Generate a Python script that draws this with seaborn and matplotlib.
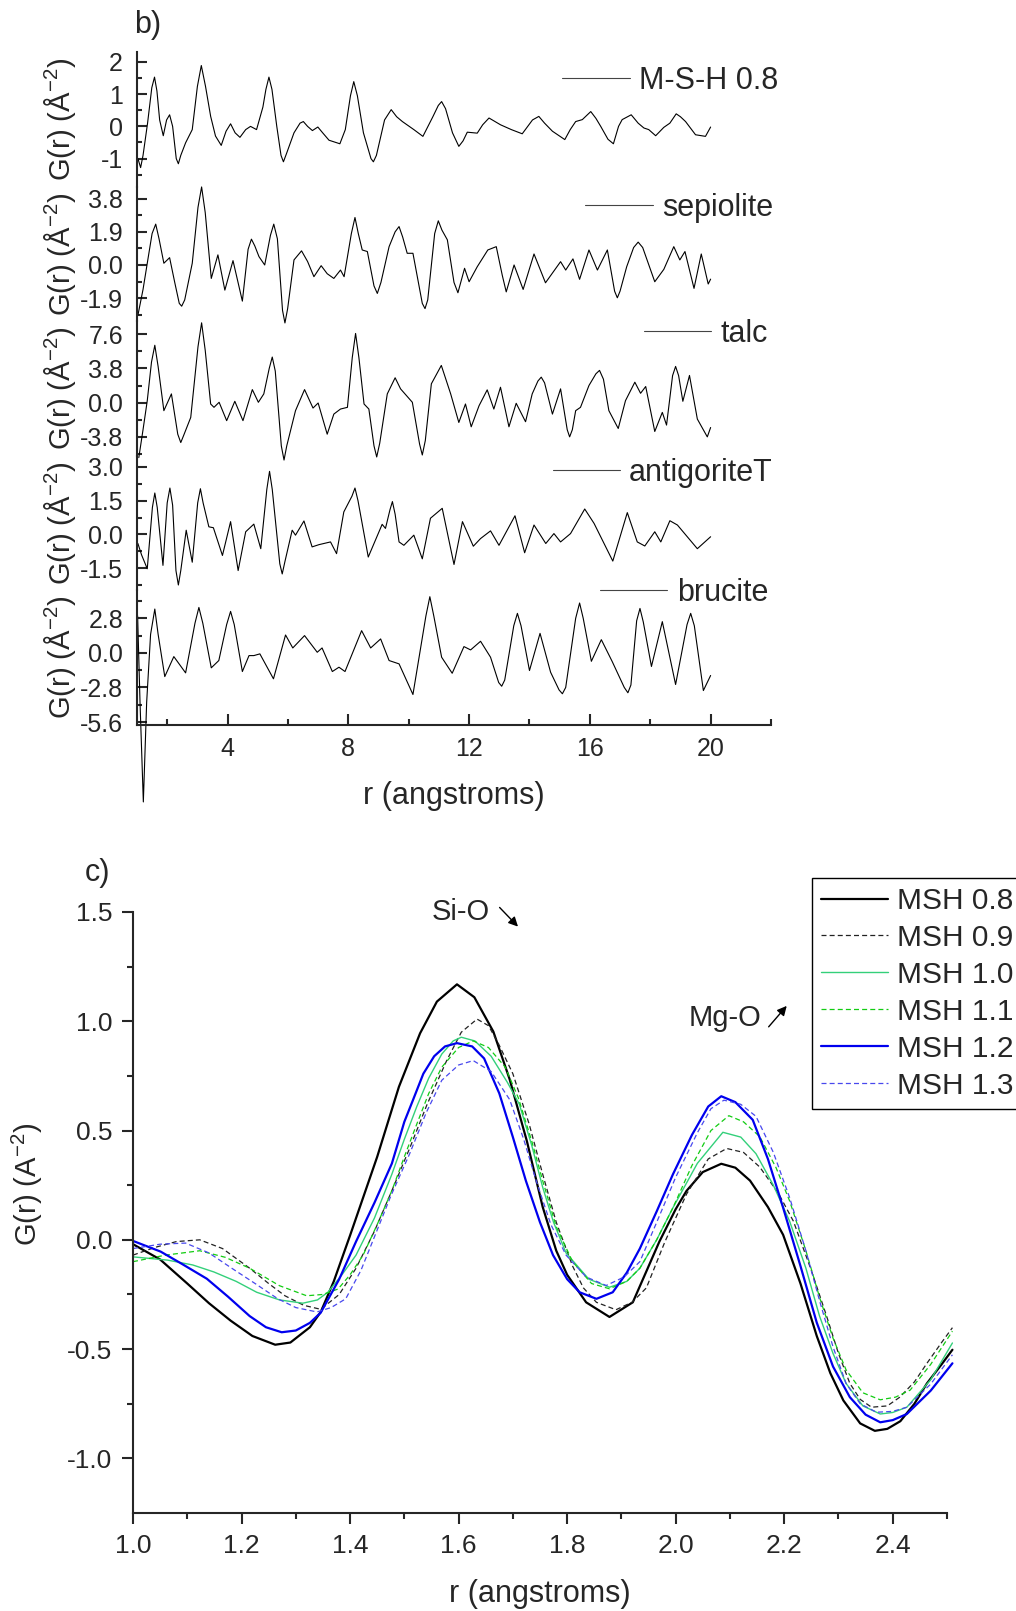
import pandas as pd
import seaborn as sns
import matplotlib.pyplot as plt

sns.set_style("ticks")
plt.rcParams['font.family'] = ['Liberation Sans', 'DejaVu Sans']
plt.rcParams['mathtext.fontset'] = 'custom'
plt.rcParams['mathtext.rm'] = 'Liberation Sans'
plt.rcParams['mathtext.it'] = 'Liberation Sans:italic'
plt.rcParams['axes.unicode_minus'] = False

# ---- panel b: G(r) of the references ----
msh_r = [1.03, 1.12, 1.20, 1.35, 1.49, 1.58, 1.66, 1.75, 1.87, 1.98, 2.08, 2.18, 2.30, 2.37, 2.45, 2.61, 2.83,
         3.00, 3.13, 3.27, 3.44, 3.60, 3.79, 3.95, 4.10, 4.25, 4.41, 4.60, 4.76, 4.96, 5.17, 5.27, 5.37,
         5.47, 5.63, 5.77, 5.85, 5.95, 6.20, 6.40, 6.51, 6.65, 6.81, 6.99, 7.15, 7.36, 7.72, 7.90, 8.07,
         8.18, 8.30, 8.50, 8.75, 8.83, 8.93, 9.20, 9.42, 9.60, 9.79, 10.17, 10.47, 10.80, 10.98, 11.09,
         11.22, 11.45, 11.66, 11.80, 11.94, 12.27, 12.45, 12.66, 13.04, 13.40, 13.76, 14.10, 14.31, 14.50,
         14.76, 15.17, 15.35, 15.53, 15.75, 16.03, 16.20, 16.36, 16.60, 16.78, 16.95, 17.07, 17.37, 17.60,
         17.79, 17.95, 18.18, 18.45, 18.65, 18.86, 19.00, 19.17, 19.50, 19.83, 20.0]
msh_g = [-1.0, -1.28, -0.9, 0.1, 1.2, 1.53, 1.1, 0.2, -0.29, 0.2, 0.36, 0.0, -1.0, -1.16, -0.9, -0.51, -0.10,
         1.24, 1.89, 1.24, 0.31, -0.3, -0.59, -0.15, 0.08, -0.2, -0.34, -0.1, 0.0, -0.10, 0.6, 1.15, 1.53,
         1.15, 0.0, -0.9, -1.10, -0.85, -0.2, 0.1, 0.15, 0.0, -0.13, -0.02, -0.2, -0.43, -0.54, -0.1, 0.95,
         1.39, 0.95, -0.2, -1.0, -1.10, -0.9, 0.2, 0.52, 0.3, 0.15, -0.10, -0.31, 0.3, 0.65, 0.77,
         0.55, -0.2, -0.62, -0.45, -0.18, -0.21, 0.05, 0.26, 0.05, -0.1, -0.23, 0.2, 0.31, 0.1,
         -0.15, -0.41, -0.1, 0.15, 0.21, 0.46, 0.25, 0.0, -0.4, -0.54, 0.0, 0.21, 0.36, 0.1,
         -0.05, -0.1, -0.29, -0.03, 0.1, 0.39, 0.3, 0.15, -0.26, -0.31, -0.02]

sep_r = [1.03, 1.20, 1.34, 1.50, 1.62, 1.73, 1.89, 2.08, 2.25, 2.40, 2.48, 2.58, 2.83, 3.02, 3.14, 3.26, 3.46,
         3.68, 3.91, 4.18, 4.49, 4.68, 4.79, 4.90, 5.04, 5.23, 5.42, 5.53, 5.65, 5.82, 5.90, 5.99, 6.20,
         6.45, 6.65, 6.86, 7.10, 7.30, 7.52, 7.74, 7.86, 8.10, 8.22, 8.33, 8.46, 8.63, 8.85, 8.96, 9.08,
         9.35, 9.55, 9.68, 9.80, 9.95, 10.14, 10.45, 10.54, 10.63, 10.86, 10.98, 11.10, 11.28, 11.50,
         11.63, 11.85, 12.0, 12.27, 12.62, 12.90, 13.1, 13.23, 13.49, 13.79, 14.15, 14.53, 15.03, 15.2,
         15.44, 15.66, 15.97, 16.25, 16.58, 16.82, 16.91, 17.0, 17.22, 17.45, 17.6, 17.75, 18.15, 18.45,
         18.78, 18.98, 19.15, 19.45, 19.69, 19.92, 20.0]
sep_g = [-2.88, -1.4, 0.1, 1.8, 2.34, 1.5, 0.1, 0.42, -1.0, -2.2, -2.36, -2.0, 0.1, 3.3, 4.47, 3.0, -0.77,
         0.58, -1.44, 0.25, -2.07, 0.9, 1.48, 1.1, 0.48, 0.0, 1.7, 2.34, 1.5, -2.6, -3.32, -2.5, 0.29,
         0.81, 0.2, -0.67, -0.04, -0.5, -0.77, -0.29, -0.67, 1.8, 2.72, 1.8, 0.86, 0.77, -1.2, -1.63, -1.0,
         1.05, 1.9, 2.2, 1.6, 0.67, 0.67, -2.2, -2.5, -2.0, 1.8, 2.53, 2.0, 1.44, -1.0,
         -1.59, -0.19, -0.96, -0.1, 0.86, 1.05, -0.6, -1.54, 0.0, -1.4, 0.63, -1.02, 0.19, -0.29,
         0.35, -0.82, 0.86, -0.29, 0.86, -1.5, -1.88, -1.5, -0.1, 1.0, 1.31, 1.0, -0.96, -0.25,
         1.05, 0.29, 0.77, -1.34, 0.63, -1.09, -0.81]

talc_r = [1.06, 1.20, 1.34, 1.48, 1.59, 1.70, 1.89, 2.14, 2.35, 2.45, 2.55, 2.78, 3.02, 3.14, 3.26, 3.44, 3.55,
          3.72, 3.97, 4.24, 4.51, 4.82, 5.02, 5.2, 5.38, 5.48, 5.58, 5.78, 5.87, 5.96, 6.25, 6.55, 6.83,
          7.0, 7.3, 7.52, 7.74, 7.97, 8.13, 8.24, 8.35, 8.52, 8.68, 8.85, 8.94, 9.04, 9.29, 9.55, 9.73,
          10.12, 10.36, 10.45, 10.55, 10.75, 11.08, 11.39, 11.66, 11.88, 12.07, 12.33, 12.6, 12.82, 13.04,
          13.32, 13.56, 13.87, 14.09, 14.28, 14.39, 14.50, 14.76, 15.03, 15.25, 15.33, 15.42, 15.53, 15.69,
          15.97, 16.20, 16.32, 16.45, 16.63, 16.94, 17.18, 17.49, 17.68, 17.85, 18.15, 18.4, 18.54, 18.74,
          18.84, 18.94, 19.08, 19.3, 19.56, 19.89, 20.0]
talc_g = [-6.1, -3.0, 0.22, 4.5, 6.37, 4.0, -0.89, 0.97, -3.5, -4.43, -3.6, -1.64, 6.2, 8.86, 5.8, -0.15, -0.52,
          0.04, -2.0, 0.15, -2.0, 1.45, 0.04, 0.97, 3.8, 5.06, 3.5, -4.8, -6.37, -4.8, -0.89, 1.45, -0.6,
          -0.04, -3.5, -1.27, -0.71, -0.52, 5.0, 7.68, 5.0, -0.15, -0.71, -4.8, -6.03, -4.5, 0.97, 2.76, 1.53,
          0.04, -4.6, -5.81, -4.2, 2.09, 4.13, 0.97, -2.2, -0.15, -2.68, -0.34, 1.42, -0.71, 1.71,
          -2.68, -0.07, -2.12, 0.97, 2.4, 2.83, 2.2, -1.27, 1.53, -3.0, -3.8, -3.0, -0.89, -0.52,
          1.9, 3.2, 3.58, 2.6, -0.89, -2.87, 0.22, 2.27, 1.04, 1.79, -3.2, -1.08, -2.49, 3.0,
          4.02, 3.0, 0.15, 3.02, -1.82, -3.8, -2.76]

anti_r = [1.03, 1.15, 1.34, 1.51, 1.59, 1.67, 1.86, 2.00, 2.09, 2.18, 2.29, 2.37, 2.45, 2.63, 2.83, 3.01, 3.10,
          3.19, 3.38, 3.53, 3.83, 4.10, 4.35, 4.60, 4.87, 5.10, 5.30, 5.39, 5.48, 5.73, 5.81, 5.90, 6.14,
          6.25, 6.53, 6.80, 7.03, 7.41, 7.61, 7.85, 8.12, 8.22, 8.32, 8.66, 9.12, 9.23, 9.38, 9.46, 9.55,
          9.68, 9.84, 10.17, 10.45, 10.72, 11.11, 11.5, 11.78, 12.14, 12.38, 12.71, 12.99, 13.52, 13.84,
          14.15, 14.54, 14.81, 15.03, 15.36, 15.83, 16.14, 16.76, 17.24, 17.57, 17.82, 18.15, 18.35,
          18.65, 18.9, 19.56, 20.0]
anti_g = [-0.4, -0.9, -1.52, 1.2, 1.84, 1.2, -1.37, 1.4, 2.06, 1.3, -1.6, -2.24, -1.6, 0.19, -1.23, 1.4, 2.03,
          1.4, 0.34, 0.30, -0.93, 0.57, -1.60, 0.12, 0.46, -0.63, 2.0, 2.80, 2.0, -1.3, -1.75, -1.2, 0.19,
          -0.03, 0.60, -0.55, -0.45, -0.33, -0.85, 1.0, 1.7, 2.06, 1.5, -1.0, 0.45, 0.27, 1.1, 1.46, 0.9,
          -0.33, -0.48, -0.03, -1.08, 0.72, 1.16, -1.33, 0.57, -0.52, -0.18, 0.16, -0.48, 0.83, -0.81,
          0.42, -0.40, 0.04, -0.33, 0.04, 1.13, 0.49, -1.18, 0.97, -0.33, -0.51, 0.12, -0.33,
          0.61, 0.42, -0.63, -0.1]

bru_r = [1.02, 1.10, 1.21, 1.32, 1.45, 1.59, 1.70, 1.92, 2.22, 2.61, 2.92, 3.05, 3.18, 3.46, 3.71, 3.97, 4.10,
         4.22, 4.49, 4.71, 4.87, 5.07, 5.52, 5.92, 6.16, 6.55, 6.97, 7.13, 7.47, 7.69, 7.89, 8.44, 8.74,
         9.07, 9.35, 9.68, 10.14, 10.57, 10.70, 10.83, 11.09, 11.44, 11.83, 12.05, 12.38, 12.71, 12.98,
         13.08, 13.18, 13.48, 13.60, 13.72, 14.00, 14.35, 14.70, 14.98, 15.09, 15.20, 15.53, 15.66, 15.78,
         16.05, 16.38, 16.74, 17.14, 17.26, 17.36, 17.55, 17.66, 17.77, 18.04, 18.40, 18.84, 19.22, 19.34,
         19.46, 19.76, 20.0]
bru_g = [3.0, -4.0, -12.07, -4.0, 1.5, 3.55, 1.5, -1.92, -0.3, -1.62, 2.4, 3.68, 2.4, -1.21, -0.62, 2.3, 3.36,
         2.3, -1.51, -0.22, -0.22, -0.08, -2.10, 1.45, 0.40, 1.40, 0.05, 0.40, -1.51, -1.16, -1.51, 1.80, 0.40,
         1.13, -0.62, -0.89, -3.37, 3.0, 4.55, 3.0, -0.35, -1.65, 0.51, 0.24, 0.94, -0.35, -2.4,
         -2.70, -2.2, 2.2, 3.20, 2.2, -1.43, 1.58, -1.57, -3.0, -3.31, -2.8, 2.8, 4.04, 2.8,
         -0.68, 1.07, -0.70, -2.8, -3.23, -2.6, 2.6, 3.60, 2.5, -1.10, 2.53, -2.56, 2.3, 3.20,
         2.2, -3.05, -1.83]

# ---- panel c: low-r region of the M-S-H samples ----
s08_r = [1.0, 1.05, 1.10, 1.14, 1.18, 1.22, 1.262, 1.29, 1.326, 1.346, 1.37, 1.40, 1.45, 1.49, 1.529, 1.56,
         1.597, 1.629, 1.664, 1.694, 1.726, 1.755, 1.78, 1.80, 1.835, 1.878, 1.921, 1.945, 1.97, 2.00, 2.02,
         2.05, 2.084, 2.11, 2.137, 2.17, 2.198, 2.23, 2.26, 2.285, 2.309, 2.34, 2.367, 2.39, 2.414, 2.44,
         2.463, 2.49, 2.51]
s08_g = [-0.02, -0.09, -0.20, -0.29, -0.37, -0.44, -0.48, -0.47, -0.40, -0.33, -0.19, 0.02, 0.38, 0.70, 0.945,
         1.09, 1.169, 1.11, 0.953, 0.735, 0.45, 0.15, -0.05, -0.16, -0.286, -0.353, -0.286, -0.15, -0.008, 0.14,
         0.224, 0.31, 0.348, 0.33, 0.271, 0.15, 0.023, -0.2, -0.44, -0.61, -0.735, -0.84, -0.874, -0.865,
         -0.83, -0.75, -0.657, -0.57, -0.503]
s09_r = [1.0, 1.04, 1.08, 1.123, 1.165, 1.215, 1.25, 1.28, 1.315, 1.346, 1.38, 1.411, 1.445, 1.477, 1.51,
         1.542, 1.578, 1.605, 1.634, 1.655, 1.673, 1.70, 1.73, 1.755, 1.78, 1.81, 1.83, 1.854, 1.89, 1.92,
         1.946, 1.98, 2.02, 2.06, 2.094, 2.125, 2.155, 2.19, 2.217, 2.25, 2.278, 2.30, 2.321, 2.34, 2.361,
         2.39, 2.413, 2.44, 2.463, 2.49, 2.51]
s09_g = [-0.07, -0.035, -0.008, 0.0, -0.04, -0.13, -0.2, -0.256, -0.30, -0.318, -0.25, -0.13, 0.04, 0.225,
         0.42, 0.62, 0.82, 0.95, 1.01, 0.98, 0.90, 0.76, 0.53, 0.30, 0.08, -0.12, -0.22, -0.286, -0.32, -0.285,
         -0.22, -0.01, 0.209, 0.37, 0.418, 0.40, 0.333, 0.21, 0.085, -0.14, -0.348, -0.52, -0.657, -0.73,
         -0.766, -0.76, -0.72, -0.65, -0.565, -0.47, -0.402]
s10_r = [1.0, 1.064, 1.11, 1.149, 1.19, 1.228, 1.27, 1.313, 1.34, 1.359, 1.385, 1.411, 1.445, 1.477, 1.50,
         1.523, 1.545, 1.569, 1.59, 1.605, 1.63, 1.66, 1.69, 1.712, 1.735, 1.755, 1.775, 1.798, 1.84, 1.878,
         1.91, 1.934, 1.965, 1.995, 2.04, 2.087, 2.12, 2.148, 2.18, 2.21, 2.24, 2.265, 2.29, 2.314, 2.345,
         2.377, 2.40, 2.426, 2.47, 2.51]
s10_g = [-0.078, -0.093, -0.115, -0.147, -0.19, -0.24, -0.275, -0.29, -0.275, -0.24, -0.16, -0.07, 0.10, 0.30,
         0.46, 0.61, 0.74, 0.85, 0.91, 0.927, 0.91, 0.84, 0.72, 0.62, 0.43, 0.24, 0.08, -0.06, -0.18, -0.217,
         -0.19, -0.13, 0.0, 0.147, 0.35, 0.492, 0.47, 0.394, 0.25, 0.085, -0.13, -0.348, -0.52, -0.657, -0.76,
         -0.797, -0.79, -0.766, -0.64, -0.472]
s11_r = [1.0, 1.06, 1.123, 1.17, 1.215, 1.27, 1.32, 1.35, 1.378, 1.40, 1.424, 1.45, 1.477, 1.50, 1.523,
         1.545, 1.569, 1.60, 1.627, 1.655, 1.686, 1.71, 1.735, 1.755, 1.78, 1.81, 1.845, 1.878, 1.91, 1.934,
         1.965, 1.995, 2.03, 2.065, 2.098, 2.125, 2.155, 2.185, 2.21, 2.24, 2.266, 2.29, 2.314, 2.345, 2.377,
         2.405, 2.432, 2.47, 2.51]
s11_g = [-0.10, -0.07, -0.05, -0.08, -0.13, -0.21, -0.256, -0.25, -0.225, -0.16, -0.07, 0.07, 0.225, 0.38,
         0.53, 0.67, 0.79, 0.88, 0.91, 0.88, 0.79, 0.65, 0.45, 0.27, 0.06, -0.1, -0.2, -0.224, -0.19, -0.13,
         0.0, 0.147, 0.34, 0.50, 0.568, 0.54, 0.472, 0.33, 0.178, -0.05, -0.27, -0.45, -0.595, -0.70, -0.732,
         -0.72, -0.688, -0.57, -0.418]
s12_r = [1.0, 1.051, 1.09, 1.136, 1.175, 1.215, 1.245, 1.274, 1.30, 1.326, 1.346, 1.38, 1.411, 1.445, 1.477,
         1.50, 1.516, 1.535, 1.555, 1.575, 1.597, 1.625, 1.647, 1.675, 1.70, 1.724, 1.75, 1.774, 1.80, 1.823,
         1.854, 1.884, 1.91, 1.934, 1.965, 1.995, 2.03, 2.06, 2.084, 2.11, 2.142, 2.17, 2.198, 2.23, 2.26,
         2.29, 2.321, 2.35, 2.377, 2.40, 2.426, 2.47, 2.51]
s12_g = [-0.005, -0.054, -0.11, -0.178, -0.26, -0.349, -0.40, -0.423, -0.415, -0.38, -0.333, -0.18, -0.008,
         0.17, 0.349, 0.54, 0.64, 0.76, 0.84, 0.885, 0.90, 0.885, 0.83, 0.67, 0.47, 0.27, 0.08, -0.07, -0.18,
         -0.24, -0.27, -0.24, -0.15, -0.04, 0.13, 0.30, 0.48, 0.61, 0.657, 0.63, 0.549, 0.37, 0.147, -0.12,
         -0.379, -0.58, -0.72, -0.80, -0.835, -0.825, -0.797, -0.69, -0.565]
s13_r = [1.0, 1.05, 1.097, 1.14, 1.182, 1.225, 1.267, 1.30, 1.339, 1.365, 1.392, 1.42, 1.444, 1.475, 1.51,
         1.54, 1.569, 1.60, 1.627, 1.66, 1.694, 1.72, 1.743, 1.77, 1.798, 1.835, 1.872, 1.905, 1.934, 1.965,
         2.0, 2.04, 2.065, 2.089, 2.12, 2.148, 2.18, 2.21, 2.24, 2.266, 2.29, 2.314, 2.34, 2.37, 2.40, 2.426,
         2.47, 2.51]
s13_g = [-0.04, -0.02, -0.015, -0.06, -0.13, -0.20, -0.27, -0.31, -0.33, -0.31, -0.27, -0.14, 0.008, 0.2,
         0.395, 0.58, 0.73, 0.80, 0.82, 0.77, 0.642, 0.46, 0.27, 0.07, -0.07, -0.17, -0.209, -0.17, -0.10,
         0.08, 0.286, 0.49, 0.60, 0.639, 0.62, 0.565, 0.40, 0.193, -0.05, -0.286, -0.49, -0.657, -0.75,
         -0.789, -0.785, -0.766, -0.66, -0.526]

W, H = 1016, 1611
fig = plt.figure(figsize=(W / 100, H / 100), dpi=100)


def fx(px):
    return px / W


def fy(py):
    return 1 - py / H


ylab_b = "G(r) (Å$^{-2}$)"

# name, r, g, ylim, major ticks, labels, minor ticks, legend anchor (px)
stack = [
    ("M-S-H 0.8", msh_r, msh_g, (-1.87, 2.31), [-1, 0, 1, 2], ["-1", "0", "1", "2"],
     [-1.5, -0.5, 0.5, 1.5], (778, 81)),
    ("sepiolite", sep_r, sep_g, (-3.22, 4.49), [-1.9, 0, 1.9, 3.8], ["-1.9", "0.0", "1.9", "3.8"],
     [-2.85, -0.95, 0.95, 2.85], (773, 208)),
    ("talc", talc_r, talc_g, (-5.9, 9.04), [-3.8, 0, 3.8, 7.6], ["-3.8", "0.0", "3.8", "7.6"],
     [-5.7, -1.9, 1.9, 5.7], (768, 334)),
    ("antigoriteT", anti_r, anti_g, (-2.48, 3.49), [-1.5, 0, 1.5, 3.0], ["-1.5", "0.0", "1.5", "3.0"],
     [-2.25, -0.75, 0.75, 2.25], (773, 473)),
    ("brucite", bru_r, bru_g, (-5.84, 5.06), [-5.6, -2.8, 0, 2.8], ["-5.6", "-2.8", "0.0", "2.8"],
     [-4.2, -1.4, 1.4, 4.2], (768, 593)),
]

top_px, step_px = 52, 134.6
left_px, right_px = 137, 771
for i, (name, r, g, ylim, major, labels, minor, (lx, ly)) in enumerate(stack):
    bottom_px = top_px + (i + 1) * step_px
    ax = fig.add_axes([fx(left_px), fy(bottom_px), fx(right_px - left_px), step_px / H])
    ax.patch.set_visible(False)
    sns.lineplot(x=r, y=g, ax=ax, color="black", linewidth=0.8, sort=False, estimator=None, label=name)
    for ln in ax.lines:
        ln.set_clip_on(False)
    ax.set_xlim(1, 22)
    ax.set_ylim(*ylim)
    ax.set_yticks(major)
    ax.set_yticklabels(labels)
    ax.set_yticks(minor, minor=True)
    ax.set_xticks([4, 8, 12, 16, 20])
    ax.set_xticks([2, 6, 10, 14, 18, 22], minor=True)
    ax.spines[["top", "right"]].set_visible(False)
    for sp in ax.spines.values():
        sp.set_linewidth(1.5)
    ax.tick_params(axis="y", which="major", direction="in", length=7, width=1.5, labelsize=18, pad=10)
    ax.tick_params(axis="y", which="minor", direction="in", length=3.5, width=1.5)
    ax.tick_params(axis="x", which="major", direction="in", length=8, width=1.5, labelsize=18, pad=9)
    ax.tick_params(axis="x", which="minor", direction="in", length=4, width=1.5)
    ax.set_ylabel(ylab_b, fontsize=21)
    ax.yaxis.set_label_coords(-0.093, 0.5)
    if i < len(stack) - 1:
        ax.spines["bottom"].set_visible(False)
        ax.tick_params(axis="x", which="both", bottom=False, labelbottom=False)
        ax.set_xlabel("")
    else:
        ax.set_xlabel("r (angstroms)", fontsize=22, labelpad=14)
    leg_b = ax.legend(loc="center right", bbox_to_anchor=(fx(lx), fy(ly)), bbox_transform=fig.transFigure,
                      frameon=False, fontsize=22, handlelength=2.2, handletextpad=0.3, borderpad=0,
                      borderaxespad=0)
    for h in leg_b.legend_handles:
        h.set_color("#444444")

fig.text(fx(148), fy(25), "b)", fontsize=22, ha="center", va="center")

# ---- panel c ----
axc = fig.add_axes([fx(133), fy(1513), fx(947 - 133), (1513 - 912) / H])
series = [
    ("MSH 0.8", s08_r, s08_g, "black", "-", 1.6),
    ("MSH 0.9", s09_r, s09_g, "#222222", (0, (4, 2.5)), 0.9),
    ("MSH 1.0", s10_r, s10_g, "#33d07a", "-", 1.0),
    ("MSH 1.1", s11_r, s11_g, "#12cc12", (0, (4, 2.5)), 0.9),
    ("MSH 1.2", s12_r, s12_g, "#0000ee", "-", 1.6),
    ("MSH 1.3", s13_r, s13_g, "#4848ee", (0, (4, 2.5)), 0.9),
]
for name, r, g, col, ls, lw in series:
    sns.lineplot(x=r, y=g, ax=axc, color=col, linestyle=ls, linewidth=lw, sort=False,
                 estimator=None, label=name)
for ln in axc.lines:
    ln.set_clip_on(False)
axc.set_xlim(1.0, 2.5)
axc.set_ylim(-1.25, 1.5)
axc.set_xticks([1.0, 1.2, 1.4, 1.6, 1.8, 2.0, 2.2, 2.4])
axc.set_xticklabels(["1.0", "1.2", "1.4", "1.6", "1.8", "2.0", "2.2", "2.4"])
axc.set_xticks([1.1, 1.3, 1.5, 1.7, 1.9, 2.1, 2.3, 2.5], minor=True)
axc.set_yticks([-1.0, -0.5, 0.0, 0.5, 1.0, 1.5])
axc.set_yticklabels(["-1.0", "-0.5", "0.0", "0.5", "1.0", "1.5"])
axc.set_yticks([-0.75, -0.25, 0.25, 0.75, 1.25], minor=True)
axc.spines[["top", "right"]].set_visible(False)
for sp in axc.spines.values():
    sp.set_linewidth(1.5)
axc.tick_params(which="major", direction="out", length=8, width=1.5, labelsize=19, pad=7)
axc.tick_params(which="minor", direction="out", length=4, width=1.5)
axc.set_xlabel("r (angstroms)", fontsize=22, labelpad=15)
axc.set_ylabel("G(r) (A$^{-2}$)", fontsize=21)
axc.yaxis.set_label_coords(-0.108, 0.547)

leg = axc.legend(loc="upper left", bbox_to_anchor=(fx(812), fy(878)), bbox_transform=fig.transFigure,
                 fontsize=21.5, handlelength=2.25, handletextpad=0.3, borderpad=0.3,
                 labelspacing=0.3, borderaxespad=0, fancybox=False, framealpha=1,
                 edgecolor="black")
leg.get_frame().set_linewidth(1.0)

axc.text(1.55, 1.5, "Si-O", fontsize=21, ha="left", va="center")
axc.annotate("", xy=(1.713, 1.424), xytext=(1.672, 1.530),
             arrowprops=dict(arrowstyle="-|>", color="black", lw=1, mutation_scale=14))
axc.text(2.023, 1.016, "Mg-O", fontsize=21, ha="left", va="center")
axc.annotate("", xy=(2.208, 1.08), xytext=(2.168, 0.965),
             arrowprops=dict(arrowstyle="-|>", color="black", lw=1, mutation_scale=14))
fig.text(fx(97), fy(873), "c)", fontsize=22, ha="center", va="center")

fig.savefig("out.png", dpi=100)
